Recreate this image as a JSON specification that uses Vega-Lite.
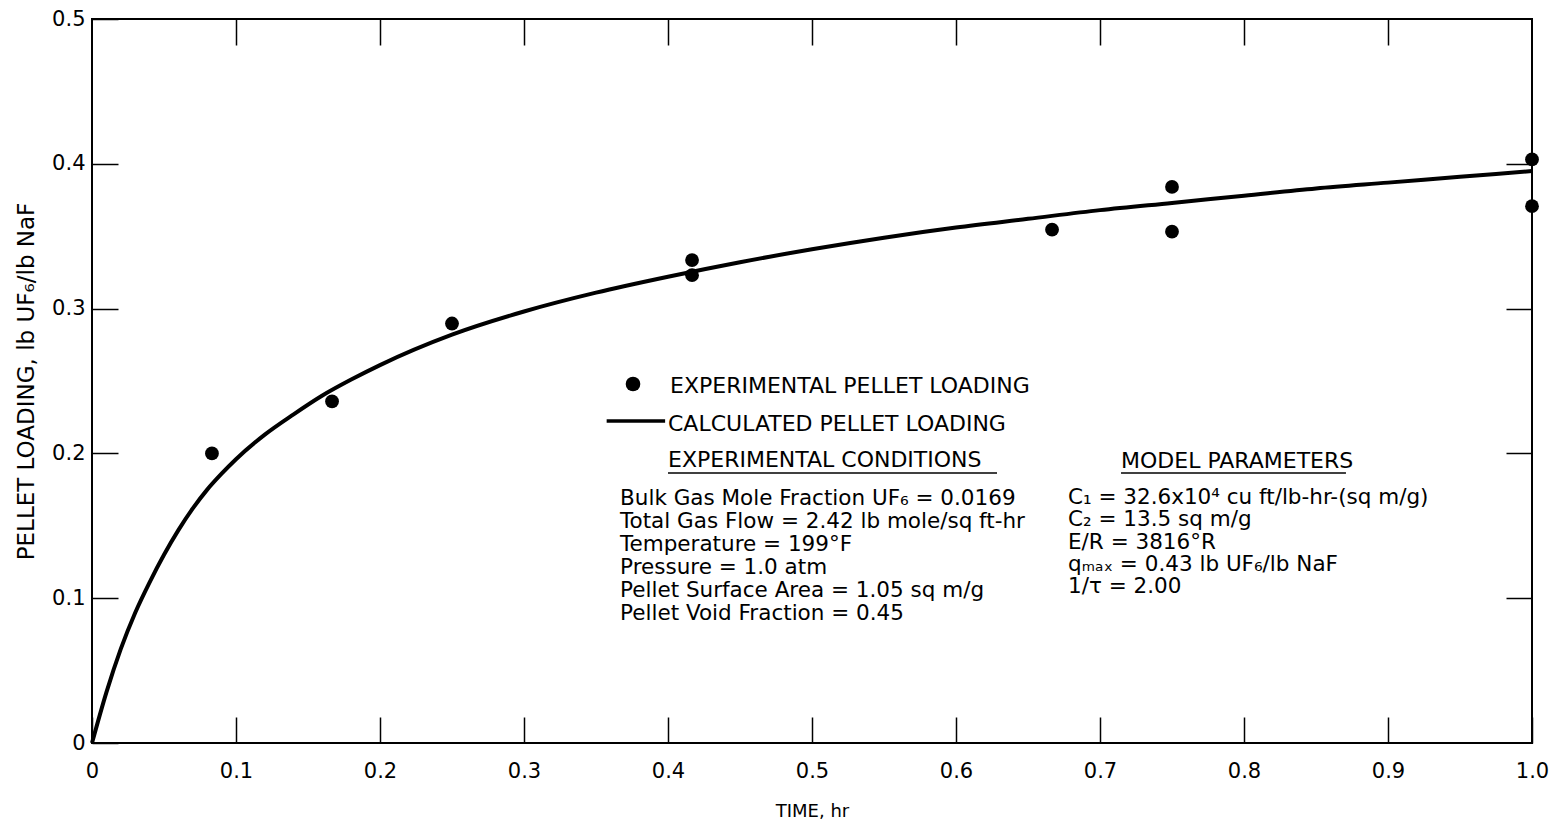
{
  "$schema": "https://vega.github.io/schema/vega-lite/v6.json",
  "width": 1440,
  "height": 724,
  "autosize": {"type": "none"},
  "padding": {"left": 92, "top": 19, "right": 26, "bottom": 80},
  "background": "white",
  "data": {"values": [{}]},
  "config": {
    "font": "DejaVu Sans",
    "view": {"stroke": "black", "strokeWidth": 2},
    "axis": {
      "domain": false,
      "grid": false,
      "tickColor": "black",
      "tickWidth": 1.5,
      "tickSize": -26,
      "labelColor": "black",
      "titleColor": "black",
      "labelFont": "DejaVu Sans",
      "titleFont": "DejaVu Sans",
      "titleFontWeight": "normal",
      "labelFlush": false
    },
    "text": {"font": "DejaVu Sans", "color": "black"}
  },
  "datasets": {
    "calc": [
      {"t": 0, "q": 0},
      {"t": 0.01, "q": 0.035},
      {"t": 0.02, "q": 0.065},
      {"t": 0.03, "q": 0.090},
      {"t": 0.04, "q": 0.111},
      {"t": 0.05, "q": 0.130},
      {"t": 0.06, "q": 0.147},
      {"t": 0.07, "q": 0.162},
      {"t": 0.08, "q": 0.175},
      {"t": 0.09, "q": 0.186},
      {"t": 0.10, "q": 0.196},
      {"t": 0.12, "q": 0.213},
      {"t": 0.14, "q": 0.227},
      {"t": 0.16, "q": 0.240},
      {"t": 0.18, "q": 0.251},
      {"t": 0.20, "q": 0.261},
      {"t": 0.25, "q": 0.282},
      {"t": 0.30, "q": 0.298},
      {"t": 0.35, "q": 0.311},
      {"t": 0.40, "q": 0.322},
      {"t": 0.45, "q": 0.332},
      {"t": 0.50, "q": 0.341},
      {"t": 0.55, "q": 0.349},
      {"t": 0.60, "q": 0.356},
      {"t": 0.65, "q": 0.362},
      {"t": 0.70, "q": 0.368},
      {"t": 0.75, "q": 0.373},
      {"t": 0.80, "q": 0.378},
      {"t": 0.85, "q": 0.383},
      {"t": 0.90, "q": 0.387},
      {"t": 0.95, "q": 0.391},
      {"t": 1.00, "q": 0.395}
    ],
    "exp": [
      {"t": 0.0833, "q": 0.200},
      {"t": 0.1667, "q": 0.2359},
      {"t": 0.25, "q": 0.2897},
      {"t": 0.4167, "q": 0.3335},
      {"t": 0.4167, "q": 0.3231},
      {"t": 0.6667, "q": 0.3545},
      {"t": 0.75, "q": 0.3840},
      {"t": 0.75, "q": 0.3531},
      {"t": 1.0, "q": 0.4030},
      {"t": 1.0, "q": 0.3707}
    ]
  },
  "resolve": {"axis": {"x": "independent", "y": "independent"}},
  "layer": [
    {
      "data": {"name": "calc"},
      "mark": {"type": "line", "color": "black", "strokeWidth": 4, "interpolate": "monotone"},
      "encoding": {
        "x": {
          "field": "t", "type": "quantitative",
          "scale": {"domain": [0, 1], "nice": false},
          "axis": {
            "orient": "bottom",
            "values": [0, 0.1, 0.2, 0.3, 0.4, 0.5, 0.6, 0.7, 0.8, 0.9, 1.0],
            "labelExpr": "datum.value == 0 ? '0' : format(datum.value, '.1f')",
            "labelFontSize": 21,
            "labelPadding": 43,
            "title": "TIME, hr",
            "titleFontSize": 18,
            "titlePadding": 21
          }
        },
        "y": {
          "field": "q", "type": "quantitative",
          "scale": {"domain": [0, 0.5], "nice": false},
          "axis": {
            "orient": "left",
            "values": [0, 0.1, 0.2, 0.3, 0.4, 0.5],
            "labelExpr": "datum.value == 0 ? '0' : format(datum.value, '.1f')",
            "labelFontSize": 21,
            "labelPadding": 33,
            "title": "PELLET LOADING, lb UF₆/lb NaF",
            "titleFontSize": 23,
            "titlePadding": 13
          }
        }
      }
    },
    {
      "data": {"name": "exp"},
      "mark": {"type": "point", "filled": true, "color": "black", "opacity": 1, "size": 190, "shape": "circle"},
      "encoding": {
        "x": {
          "field": "t", "type": "quantitative",
          "scale": {"domain": [0, 1], "nice": false},
          "axis": {"orient": "top", "values": [0.1, 0.2, 0.3, 0.4, 0.5, 0.6, 0.7, 0.8, 0.9], "labels": false, "title": null}
        },
        "y": {
          "field": "q", "type": "quantitative",
          "scale": {"domain": [0, 0.5], "nice": false},
          "axis": {"orient": "right", "values": [0.1, 0.2, 0.3, 0.4], "labels": false, "title": null}
        }
      }
    },
    {
      "mark": {"type": "point", "filled": true, "color": "black", "opacity": 1, "size": 215, "shape": "circle"},
      "encoding": {
        "x": {"datum": 0.3757, "type": "quantitative", "scale": {"domain": [0, 1], "nice": false}, "axis": null},
        "y": {"datum": 0.2479, "type": "quantitative", "scale": {"domain": [0, 0.5], "nice": false}, "axis": null}
      }
    },
    {
      "mark": {"type": "rule", "color": "black", "strokeWidth": 3.5},
      "encoding": {
        "x": {"datum": 0.3574, "type": "quantitative", "axis": null},
        "x2": {"datum": 0.398},
        "y": {"datum": 0.2224, "type": "quantitative", "axis": null}
      }
    },
    {
      "mark": {"type": "text", "align": "left", "baseline": "alphabetic", "fontSize": 22, "text": "EXPERIMENTAL PELLET LOADING"},
      "encoding": {
        "x": {"datum": 0.4014, "type": "quantitative", "axis": null},
        "y": {"datum": 0.2417, "type": "quantitative", "axis": null}
      }
    },
    {
      "mark": {"type": "text", "align": "left", "baseline": "alphabetic", "fontSize": 22, "text": "CALCULATED PELLET LOADING"},
      "encoding": {
        "x": {"datum": 0.4, "type": "quantitative", "axis": null},
        "y": {"datum": 0.2155, "type": "quantitative", "axis": null}
      }
    },
    {
      "mark": {"type": "text", "align": "left", "baseline": "alphabetic", "fontSize": 22, "text": "EXPERIMENTAL   CONDITIONS"},
      "encoding": {
        "x": {"datum": 0.4, "type": "quantitative", "axis": null},
        "y": {"datum": 0.1906, "type": "quantitative", "axis": null}
      }
    },
    {
      "mark": {"type": "rule", "color": "black", "strokeWidth": 1.5},
      "encoding": {
        "x": {"datum": 0.4, "type": "quantitative", "axis": null},
        "x2": {"datum": 0.6285},
        "y": {"datum": 0.1865, "type": "quantitative", "axis": null}
      }
    },
    {
      "mark": {
        "type": "text", "align": "left", "baseline": "alphabetic", "fontSize": 21.5, "lineHeight": 23,
        "text": [
          "Bulk Gas Mole Fraction UF₆ = 0.0169",
          "Total Gas Flow = 2.42 lb mole/sq ft-hr",
          "Temperature = 199°F",
          "Pressure = 1.0 atm",
          "Pellet Surface Area = 1.05 sq m/g",
          "Pellet Void Fraction = 0.45"
        ]
      },
      "encoding": {
        "x": {"datum": 0.3667, "type": "quantitative", "axis": null},
        "y": {"datum": 0.1644, "type": "quantitative", "axis": null}
      }
    },
    {
      "mark": {"type": "text", "align": "left", "baseline": "alphabetic", "fontSize": 22, "text": "MODEL  PARAMETERS"},
      "encoding": {
        "x": {"datum": 0.7146, "type": "quantitative", "axis": null},
        "y": {"datum": 0.1899, "type": "quantitative", "axis": null}
      }
    },
    {
      "mark": {"type": "rule", "color": "black", "strokeWidth": 1.5},
      "encoding": {
        "x": {"datum": 0.7146, "type": "quantitative", "axis": null},
        "x2": {"datum": 0.8708},
        "y": {"datum": 0.1865, "type": "quantitative", "axis": null}
      }
    },
    {
      "mark": {
        "type": "text", "align": "left", "baseline": "alphabetic", "fontSize": 21.5, "lineHeight": 22.3,
        "text": [
          "C₁ = 32.6x10⁴ cu ft/lb-hr-(sq m/g)",
          "C₂ = 13.5 sq m/g",
          "E/R = 3816°R",
          "qₘₐₓ = 0.43 lb UF₆/lb NaF",
          "1/τ = 2.00"
        ]
      },
      "encoding": {
        "x": {"datum": 0.6778, "type": "quantitative", "axis": null},
        "y": {"datum": 0.165, "type": "quantitative", "axis": null}
      }
    }
  ]
}
